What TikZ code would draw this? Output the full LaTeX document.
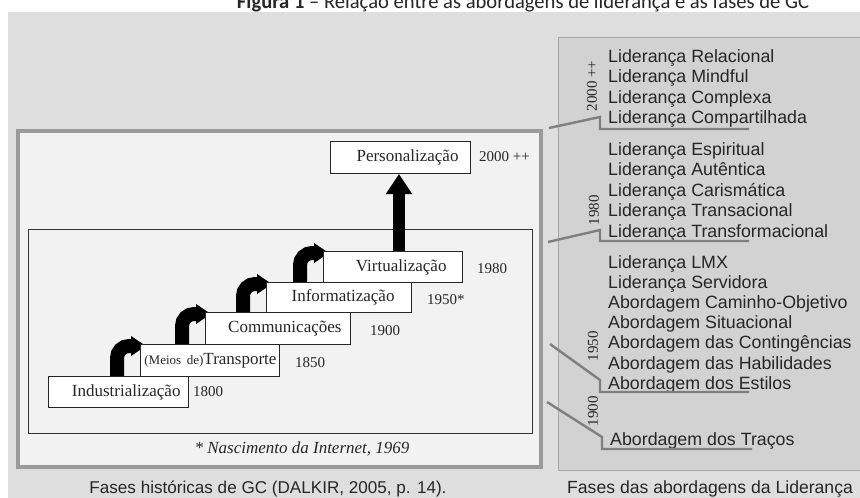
\documentclass[tikz,border=0pt]{standalone}
\usepackage{fontspec}
\setmainfont{Liberation Serif}
\newfontfamily\arialf{Liberation Sans}
\newfontfamily\calibrif{Carlito}
\usetikzlibrary{arrows.meta}
\pgfdeclarelayer{bg}
\pgfdeclarelayer{arr}
\pgfsetlayers{bg,arr,main}
\definecolor{bggray}{HTML}{DEDEDE}
\definecolor{panelgray}{HTML}{D2D2D2}
\definecolor{panelline}{HTML}{A6A6A6}
\definecolor{outerline}{HTML}{9A9A9A}
\definecolor{lightfill}{HTML}{F2F2F2}
\definecolor{bracketc}{HTML}{7F7F7F}
\definecolor{txt}{HTML}{262626}
\tikzset{
  stepbox/.style={draw=black!85, fill=white, line width=1pt, inner ysep=0pt,
    align=right, anchor=north west, text=txt, font=\fontsize{17}{20}\selectfont},
  yr/.style={text=txt, inner sep=0pt, font=\fontsize{15}{17}\selectfont},
  lead/.style={text=txt, inner sep=0pt, anchor=base west, font=\arialf\fontsize{17.8}{20}\selectfont},
  bracketline/.style={draw=bracketc, line width=2.4pt},
  bendarrow/.style={line width=14pt, rounded corners=12pt, -{Triangle[width=19pt,length=15pt]}},
}
\begin{document}
\begin{tikzpicture}[x=1pt, y={(0pt,-1pt)}]
\useasboundingbox (0,0) rectangle (860,498);

% ---- boxes of the staircase
\node[stepbox, minimum height=31pt, inner xsep=8pt, text width=124pt] (ind) at (48,376) {Industrialização};
\node[stepbox, minimum height=32pt, inner xsep=3pt, text width=133pt] (tra) at (140,344) {{\fontsize{13}{15}\selectfont(Meios de)}Transporte};
\node[stepbox, minimum height=32pt, inner xsep=9pt, text width=127pt] (com) at (205,312) {Communicações};
\node[stepbox, minimum height=30pt, inner xsep=17pt, text width=111pt] (inf) at (266,282) {Informatização};
\node[stepbox, minimum height=31pt, inner xsep=16pt, text width=107pt] (vir) at (323,251) {Virtualização};
\node[stepbox, minimum height=32pt, inner xsep=12pt, text width=116pt] (per) at (330,141) {Personalização};

% ---- years
\node[yr, anchor=west] (y2000) at (479,157) {2000 ++};
\node[yr, anchor=west] (y1980) at (477,269) {1980};
\node[yr, anchor=west] (y1950) at (427,300) {1950*};
\node[yr, anchor=west] (y1900) at (370,331) {1900};
\node[yr, anchor=west] (y1850) at (295,363) {1850};
\node[yr, anchor=west] (y1800) at (193,392) {1800};

\node[text=txt, inner sep=0pt, anchor=base, font=\itshape\fontsize{17}{20}\selectfont] (nasc) at (302,453) {* Nascimento da Internet, 1969};

% ---- title (cut at the top, as in the source)
\node[anchor=base, inner sep=0pt, text=black!85, font=\calibrif\fontsize{20.6}{24}\selectfont] (title) at (523,8) {\textbf{Figura 1} – Relação entre as abordagens de liderança e as fases de GC};

% ---- captions
\node[anchor=base, inner sep=0pt, text=txt, font=\arialf\fontsize{17.1}{20}\selectfont] (capl) at (268,493) {Fases históricas de GC (DALKIR, 2005, p. 14).};
\node[anchor=base west, inner sep=0pt, text=txt, font=\arialf\fontsize{17.6}{20}\selectfont] (capr) at (567,493) {Fases das abordagens da Liderança};

% ---- right panel text
\node[lead] (r1) at (608,62) {Liderança Relacional};
\node[lead] (r2) at (608,82.5) {Liderança Mindful};
\node[lead] (r3) at (608,103) {Liderança Complexa};
\node[lead] (r4) at (608,123.5) {Liderança Compartilhada};
\node[lead] (r5) at (608,155) {Liderança Espiritual};
\node[lead] (r6) at (608,175.5) {Liderança Autêntica};
\node[lead] (r7) at (608,196) {Liderança Carismática};
\node[lead] (r8) at (608,216.5) {Liderança Transacional};
\node[lead] (r9) at (608,237) {Liderança Transformacional};
\node[lead] (r10) at (608,268) {Liderança LMX};
\node[lead] (r11) at (608,288.2) {Liderança Servidora};
\node[lead] (r12) at (608,308.4) {Abordagem Caminho-Objetivo};
\node[lead] (r13) at (608,328.6) {Abordagem Situacional};
\node[lead] (r14) at (608,348.8) {Abordagem das Contingências};
\node[lead] (r15) at (608,369) {Abordagem das Habilidades};
\node[lead] (r16) at (608,389.2) {Abordagem dos Estilos};
\node[lead] (r17) at (610,445) {Abordagem dos Traços};

\node[yr, rotate=90] (v2000) at (592,86) {2000 ++};
\node[yr, rotate=90] (v1980) at (594,210) {1980};
\node[yr, rotate=90] (v1950) at (593,346) {1950};
\node[yr, rotate=90] (v1900) at (593,411) {1900};

% ---- brackets
\draw[bracketline] (549,128) -- (600,117) -- (600,129) -- (749,129);
\draw[bracketline] (548,242) -- (600,230) -- (600,241) -- (749,241);
\draw[bracketline] (550,344) -- (600,380) -- (600,392) -- (749,392);
\draw[bracketline] (547,402) -- (602,437) -- (602,449) -- (752,449);

% ---- arrows (behind the boxes)
\begin{pgfonlayer}{arr}
\foreach \lo/\up in {ind/tra, tra/com, com/inf, inf/vir}{
  \draw[bendarrow] ([xshift=-23pt]\up.south west) -- ([xshift=-23pt,yshift=-2pt]\up.north west) -- ([xshift=6pt,yshift=-2pt]\up.north west);
}
\draw[line width=12pt, -{Triangle[width=25pt,length=20pt]}] ([xshift=76pt]vir.north west) -- ([xshift=69pt]per.south west);
\end{pgfonlayer}

% ---- panels
\begin{pgfonlayer}{bg}
\fill[white] (0,0) rectangle (860,498);
\fill[bggray] (8,12) rectangle (860,498);
\filldraw[fill=lightfill, draw=outerline, line width=4pt] (18,131) rectangle (541,467);
\draw[black!80, line width=1pt] (28,229) rectangle (532,433);
\filldraw[fill=panelgray, draw=panelline, line width=1pt] (558,37) rectangle (880,470);
\end{pgfonlayer}
\end{tikzpicture}
\end{document}
